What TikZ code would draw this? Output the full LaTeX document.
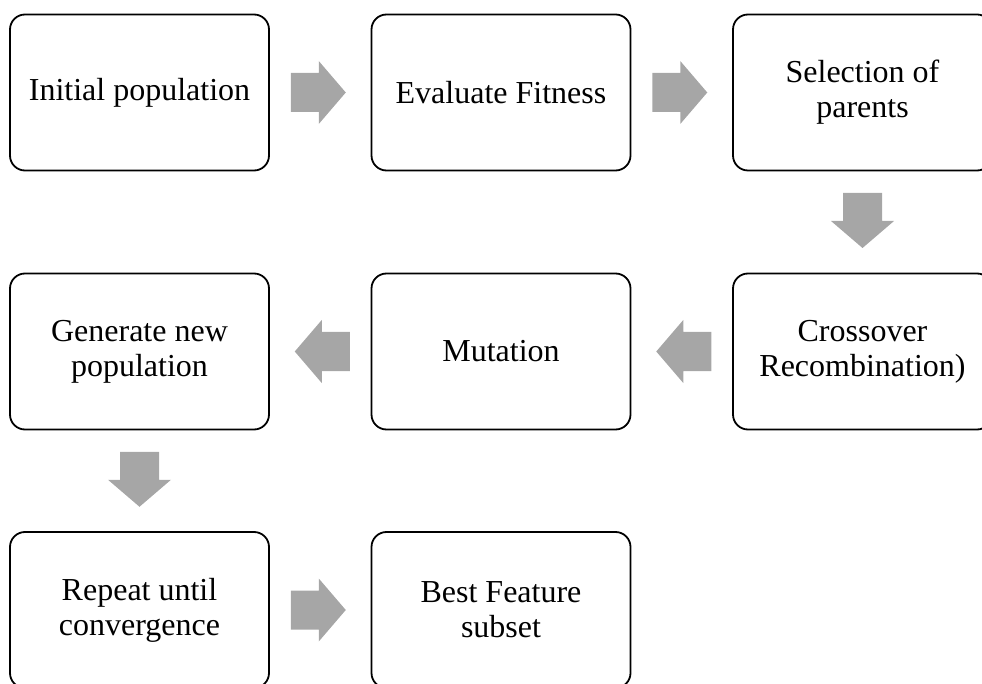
\documentclass[tikz,border=0pt]{standalone}
\usepackage{fontspec}
\setmainfont{Liberation Serif}
\usetikzlibrary{calc}
\definecolor{arrowgray}{HTML}{A6A6A6}
\tikzset{
  stepbox/.style={draw=black, line width=1.8pt, rounded corners=15pt, fill=white,
    minimum width=259pt, minimum height=156pt, align=center, inner sep=4pt,
    font=\fontsize{32}{35}\selectfont},
}
\newcommand\blockarrow[2]{%
  \fill[arrowgray, shift={(#1)}, rotate=#2]
    (-27.5pt,-19.5pt) -- (0.5pt,-19.5pt) -- (0.5pt,-31.5pt) -- (27.5pt,0pt)
    -- (0.5pt,31.5pt) -- (0.5pt,19.5pt) -- (-27.5pt,19.5pt) -- cycle;}
\begin{document}
\begin{tikzpicture}
\useasboundingbox (0pt,0pt) rectangle (982pt,-684pt);
\clip (0pt,0pt) rectangle (982pt,-684pt);
\node[stepbox] (n1) at (139.5pt,-92.5pt) {Initial population};
\node[stepbox] (n2) at (501pt,-92.5pt) {Evaluate Fitness};
\node[stepbox] (n3) at (862.5pt,-92.5pt) {Selection of\\parents};
\node[stepbox] (n4) at (862.5pt,-351.5pt) {Crossover\\Recombination)};
\node[stepbox] (n5) at (501pt,-351.5pt) {Mutation};
\node[stepbox] (n6) at (139.5pt,-351.5pt) {Generate new\\population};
\node[stepbox] (n7) at (139.5pt,-610pt) {Repeat until\\convergence};
\node[stepbox] (n8) at (501pt,-610pt) {Best Feature\\subset};
\blockarrow{$($(n1.east)!0.5!(n2.west)$)+(-2pt,0)$}{0}
\blockarrow{$($(n2.east)!0.5!(n3.west)$)+(-2pt,0)$}{0}
\blockarrow{$($(n3.south)!0.5!(n4.north)$)+(0,1.5pt)$}{-90}
\blockarrow{$($(n4.west)!0.5!(n5.east)$)+(2pt,0)$}{180}
\blockarrow{$($(n5.west)!0.5!(n6.east)$)+(2pt,0)$}{180}
\blockarrow{$($(n6.south)!0.5!(n7.north)$)+(0,1.5pt)$}{-90}
\blockarrow{$($(n7.east)!0.5!(n8.west)$)+(-2pt,0)$}{0}
\end{tikzpicture}
\end{document}
